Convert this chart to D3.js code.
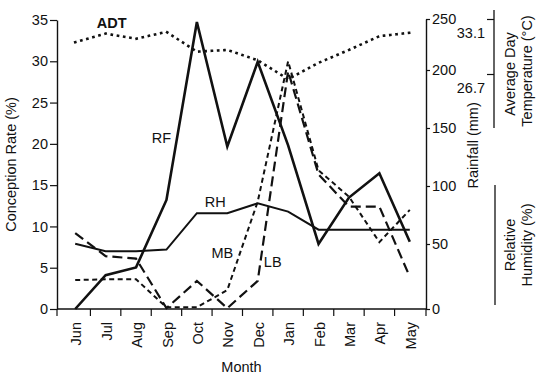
<!DOCTYPE html>
<html><head><meta charset="utf-8">
<script src="https://cdn.jsdelivr.net/npm/d3@7"></script>
<style>
body{margin:0;background:#fff;}
text{font-family:"Liberation Sans",Arial,Helvetica,sans-serif;fill:#111;}
</style></head>
<body><svg id="c" width="537" height="379"></svg>
<script>
const months = ["Jun","Jul","Aug","Sep","Oct","Nov","Dec","Jan","Feb","Mar","Apr","May"];
// Rainfall (mm), right axis
const rainfall = [0, 26, 32, 88, 247, 134, 208, 135, 50, 90, 111, 52];
// Relative humidity, drawn in the conception-rate plot units (its own axis has no ticks)
const humidity = [7.9, 7.0, 7.0, 7.2, 11.6, 11.6, 12.8, 11.8, 9.6, 9.6, 9.6, 9.6];
// Conception rate (%)
const conceptionMB = [3.5, 3.6, 3.6, 0.2, 0.2, 2.3, 13.0, 30.0, 16.8, 13.6, 8.1, 12.0];
const conceptionLB = [9.2, 6.4, 6.1, 0.1, 3.4, 0.1, 3.4, 28.8, 16.3, 12.4, 12.4, 3.9];
// Average day temperature (°C)
const adt = [30.4, 31.4, 30.8, 31.6, 29.3, 29.5, 28.3, 26.1, 28.0, 29.5, 31.1, 31.5];

const leftTicks = [0,5,10,15,20,25,30,35];
const rainTicks = [0,50,100,150,200,250];
const adtTicks = [33.1, 26.7];

const svg = d3.select("#c");
const FS = "14.5px";
const ink = "#111";

const x = d3.scaleBand().domain(months).range([60, 425]).padding(0);
const xc = m => x(m) + x.bandwidth()/2;
const y = d3.scaleLinear().domain([0,35]).range([309,20]);
const yRain = d3.scaleLinear().domain(rainTicks).range([309,244,186,128,70,19]);
const yAdt = d3.scaleLinear().domain([26.7,33.1]).range([74,19]);

const L = 57, R = 426;

// left axis
const gl = svg.append("g").attr("transform",`translate(${L},0)`)
  .call(d3.axisLeft(y).tickValues(leftTicks).tickSize(7).tickSizeOuter(0).tickPadding(2));
// right rainfall axis
const gr = svg.append("g").attr("transform",`translate(${R},0)`)
  .call(d3.axisRight(yRain).tickValues(rainTicks).tickSize(4).tickSizeOuter(0).tickPadding(2));
[gl,gr].forEach(g=>{
  g.select(".domain").attr("stroke",ink).attr("stroke-width",1.4);
  g.selectAll(".tick line").attr("stroke",ink).attr("stroke-width",1.2);
  g.selectAll("text").style("font-size",FS).attr("fill",ink);
});

// bottom axis
svg.append("line").attr("x1",L).attr("x2",R).attr("y1",y(0)).attr("y2",y(0))
  .attr("stroke",ink).attr("stroke-width",1.4);
const bounds = months.slice(1).map(m=>x(m)).concat([L,R]);
svg.append("g").selectAll("line").data(bounds).join("line")
  .attr("x1",d=>d).attr("x2",d=>d).attr("y1",y(0)).attr("y2",y(0)+7)
  .attr("stroke",ink).attr("stroke-width",1.2);
svg.append("g").selectAll("text").data(months).join("text")
  .attr("transform",d=>`translate(${xc(d)+1},${y(0)+13}) rotate(-90)`)
  .attr("text-anchor","end").attr("dy","0.35em").style("font-size",FS).text(d=>d);
svg.append("text").attr("x",(L+R)/2).attr("y",372).attr("text-anchor","middle")
  .style("font-size",FS).text("Month");

// axis titles
svg.append("text").attr("transform",`translate(16,${y(17.5)}) rotate(-90)`)
  .attr("text-anchor","middle").style("font-size",FS).text("Conception Rate (%)");
svg.append("text").attr("transform",`translate(478,${yRain(135)}) rotate(-90)`)
  .attr("text-anchor","middle").style("font-size",FS).text("Rainfall (mm)");

// ADT side axis
svg.append("line").attr("x1",494).attr("x2",494).attr("y1",10).attr("y2",128)
  .attr("stroke",ink).attr("stroke-width",1.3);
const ga = svg.append("g").attr("transform","translate(494,0)")
  .call(d3.axisLeft(yAdt).tickValues(adtTicks).tickSize(7).tickSizeOuter(0).tickPadding(2).tickFormat(d3.format(".1f")));
ga.select(".domain").remove();
ga.selectAll(".tick line").attr("stroke",ink).attr("stroke-width",1.2);
ga.selectAll("text").style("font-size",FS).attr("fill",ink).attr("dy","1.25em");
svg.append("text").attr("transform","translate(515,74) rotate(-90)").attr("text-anchor","middle")
  .style("font-size",FS).text("Average Day");
svg.append("text").attr("transform","translate(532,71) rotate(-90)").attr("text-anchor","middle")
  .style("font-size",FS).text("Temperature (°C)");

// RH side axis
svg.append("line").attr("x1",495).attr("x2",495).attr("y1",185).attr("y2",305)
  .attr("stroke",ink).attr("stroke-width",1.3);
svg.append("text").attr("transform","translate(515,245) rotate(-90)").attr("text-anchor","middle")
  .style("font-size",FS).text("Relative");
svg.append("text").attr("transform","translate(532,245) rotate(-90)").attr("text-anchor","middle")
  .style("font-size",FS).text("Humidity (%)");

// lines
function draw(vals, scale, w, dash, cap){
  const line = d3.line().x((d,i)=>xc(months[i])).y(d=>scale(d));
  svg.append("path").datum(vals).attr("d",line).attr("fill","none")
    .attr("stroke",ink).attr("stroke-width",w)
    .attr("stroke-dasharray",dash||null).attr("stroke-linecap",cap||"butt")
    .attr("stroke-linejoin","miter");
}
draw(adt, yAdt, 2.6, "0.1,6.2", "square");
draw(humidity, y, 2);
draw(rainfall, yRain, 2.6);
draw(conceptionMB, y, 2, "5,3.5");
draw(conceptionLB, y, 2.2, "10,5");

// series labels
const lab = (t,xx,yy,bold)=>svg.append("text").attr("x",xx).attr("y",yy).attr("text-anchor","middle")
  .style("font-size",FS).style("font-weight",bold?"bold":"normal").text(t);
lab("ADT", xc("Jul")+6, yAdt(adt[1])-6, true);
lab("RF", xc("Sep")-5, yRain(rainfall[3])-57);
lab("RH", xc("Nov")-12, y(humidity[5])-6);
lab("MB", xc("Nov")-5, y(conceptionMB[5])-32);
lab("LB", xc("Dec")+15, y(conceptionLB[6])-14);
</script></body></html>
